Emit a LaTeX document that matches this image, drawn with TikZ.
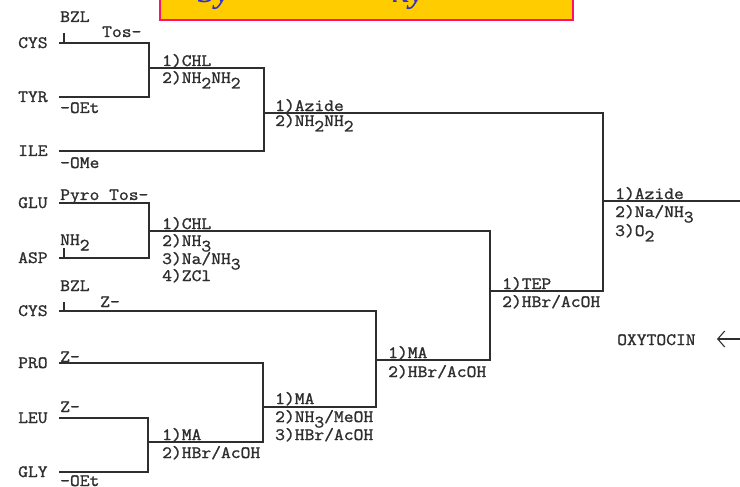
\documentclass[tikz,border=0pt]{standalone}
\usepackage{fontspec}
\setmonofont[FakeStretch=1.1,FakeBold=1.3]{Latin Modern Mono}
\newfontfamily\titlefont{Liberation Serif}
\usetikzlibrary{arrows.meta}
\definecolor{ink}{HTML}{2E2E2E}
\definecolor{titlefill}{HTML}{FFCC00}
\definecolor{titleedge}{HTML}{FF1166}
\definecolor{titleblue}{HTML}{3333CC}
\newcommand{\dn}[1]{\raisebox{-5.5pt}{#1}}
\begin{document}
\begin{tikzpicture}[x=1pt,y=-1pt,
  lbl/.style={anchor=base west, inner sep=0pt, font=\ttfamily\fontsize{17.3}{18}\selectfont, text=ink},
  wire/.style={draw=ink, line width=1.3pt, line cap=rect},
  tick/.style={draw=ink, line width=1.1pt}]
\useasboundingbox (0,0) rectangle (740,487);
\clip (0,0) rectangle (740,487);
\fill[white] (0,0) rectangle (740,487);

% title box (cut off at the top)
\fill[titlefill] (160,-10) rectangle (573,20);
\draw[titleedge, line width=2pt] (160,-10) rectangle (573,20);
\begin{scope}
  \clip (198,0) rectangle (228,14) (392,0) rectangle (422,14);
  \node[anchor=base west, inner sep=0pt, text=titleblue,
        font=\titlefont\bfseries\itshape\fontsize{33}{36}\selectfont] (title) at (197,3) {Synthesis of Oxytocin};
\end{scope}

% ---------- coordinates ----------
\coordinate (cysA) at (60,43);   \coordinate (cysB) at (149,43);
\coordinate (tyrA) at (60,97);   \coordinate (tyrB) at (149,97);
\coordinate (j1) at (149,68);    \coordinate (j1e) at (264,68);
\coordinate (ileA) at (60,151);  \coordinate (ileB) at (264,151);
\coordinate (j2) at (264,113);   \coordinate (j2e) at (603,113);
\coordinate (gluA) at (60,203);  \coordinate (gluB) at (149,203);
\coordinate (aspA) at (60,258);  \coordinate (aspB) at (149,258);
\coordinate (j3) at (149,231);   \coordinate (j3e) at (490,231);
\coordinate (cys2A) at (60,311); \coordinate (cys2B) at (376,311);
\coordinate (proA) at (60,363);  \coordinate (proB) at (263,363);
\coordinate (leuA) at (60,418);  \coordinate (leuB) at (148,418);
\coordinate (glyA) at (60,472);  \coordinate (glyB) at (148,472);
\coordinate (j4) at (148,442);   \coordinate (j4e) at (263,442);
\coordinate (j5) at (263,407);   \coordinate (j5e) at (376,407);
\coordinate (j6) at (376,360);   \coordinate (j6e) at (490,360);
\coordinate (j7) at (490,291);   \coordinate (j7e) at (603,291);
\coordinate (j8) at (603,201);   \coordinate (j8e) at (741,201);
\coordinate (t1a) at (64,33);    \coordinate (t1b) at (64,43);
\coordinate (t2a) at (64,248);   \coordinate (t2b) at (64,258);
\coordinate (t3a) at (64,302);   \coordinate (t3b) at (64,311);
\coordinate (arrS) at (741,339); \coordinate (arrT) at (717,339);

% ---------- brackets ----------
\draw[wire] (cysA) -- (cysB) -- (tyrB) -- (tyrA);
\draw[wire] (j1) -- (j1e) -- (ileB) -- (ileA);
\draw[wire] (j2) -- (j2e) -- (j7e) -- (j7);
\draw[wire] (gluA) -- (gluB) -- (aspB) -- (aspA);
\draw[wire] (j3) -- (j3e) -- (j6e) -- (j6);
\draw[wire] (cys2A) -- (cys2B) -- (j5e) -- (j5);
\draw[wire] (proA) -- (proB) -- (j4e) -- (j4);
\draw[wire] (leuA) -- (leuB) -- (glyB) -- (glyA);
\draw[wire] (j8) -- (j8e);
\draw[tick] (t1a) -- (t1b);
\draw[tick] (t2a) -- (t2b);
\draw[tick] (t3a) -- (t3b);

% ---------- amino acid labels ----------
\node[lbl] (lcys) at (18,48) {CYS};
\node[lbl] (ltyr) at (18,102) {TYR};
\node[lbl] (lile) at (18,156) {ILE};
\node[lbl] (lglu) at (18,208) {GLU};
\node[lbl] (lasp) at (18,263) {ASP};
\node[lbl] (lcys2) at (18,316) {CYS};
\node[lbl] (lpro) at (18,368) {PRO};
\node[lbl] (lleu) at (18,423) {LEU};
\node[lbl] (lgly) at (18,477) {GLY};

% ---------- protecting groups ----------
\node[lbl] (pbzl1) at (60,22) {BZL};
\node[lbl] (ptos1) at (102,37) {Tos-};
\node[lbl] (poet1) at (60,113) {-OEt};
\node[lbl] (pome) at (60,168) {-OMe};
\node[lbl] (ppyro) at (60,200) {Pyro Tos-};
\node[lbl] (pnh2) at (60,245) {NH\dn{2}};
\node[lbl] (pbzl2) at (60,291) {BZL};
\node[lbl] (pz1) at (100,307) {Z-};
\node[lbl] (pz2) at (60,362) {Z-};
\node[lbl] (pz3) at (60,412) {Z-};
\node[lbl] (poet2) at (60,486) {-OEt};

% ---------- reagents ----------
\node[lbl] (r1a) at (162,66) {1)CHL};
\node[lbl] (r1b) at (162,83) {2)NH\dn{2}NH\dn{2}};
\node[lbl] (r2a) at (275,111) {1)Azide};
\node[lbl] (r2b) at (275,126) {2)NH\dn{2}NH\dn{2}};
\node[lbl] (r3a) at (162,229) {1)CHL};
\node[lbl] (r3b) at (162,246) {2)NH\dn{3}};
\node[lbl] (r3c) at (162,264) {3)Na/NH\dn{3}};
\node[lbl] (r3d) at (162,281) {4)ZCl};
\node[lbl] (r4a) at (162,440) {1)MA};
\node[lbl] (r4b) at (162,458) {2)HBr/AcOH};
\node[lbl] (r5a) at (275,404) {1)MA};
\node[lbl] (r5b) at (275,422) {2)NH\dn{3}/MeOH};
\node[lbl] (r5c) at (275,440) {3)HBr/AcOH};
\node[lbl] (r6a) at (388,358) {1)MA};
\node[lbl] (r6b) at (388,377) {2)HBr/AcOH};
\node[lbl] (r7a) at (502,289) {1)TEP};
\node[lbl] (r7b) at (502,307) {2)HBr/AcOH};
\node[lbl] (r8a) at (615,199) {1)Azide};
\node[lbl] (r8b) at (615,217) {2)Na/NH\dn{3}};
\node[lbl] (r8c) at (615,236) {3)O\dn{2}};

% ---------- product ----------
\node[lbl] (oxy) at (617,345) {OXYTOCIN};
\draw[draw=ink, line width=1.1pt, -{Straight Barb[length=7pt,width=16pt]}] (arrS) -- (arrT);
\end{tikzpicture}
\end{document}
